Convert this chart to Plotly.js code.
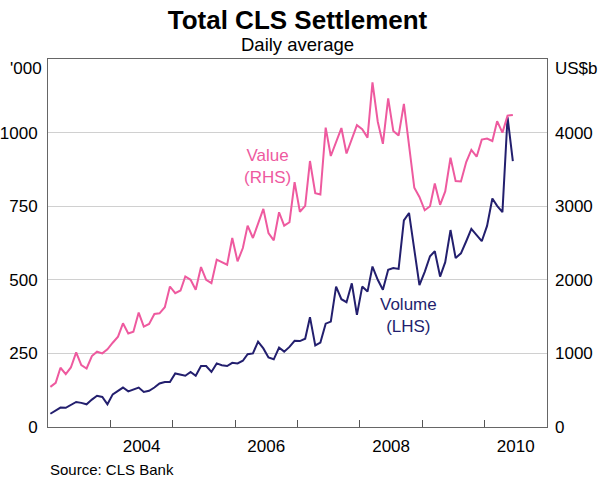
<!DOCTYPE html>
<html>
<head>
<meta charset="utf-8">
<script src="https://cdn.plot.ly/plotly-3.0.1.min.js"></script>
<style>
  html, body { margin: 0; padding: 0; background: #fff; }
  #chart { width: 600px; height: 488px; }
</style>
</head>
<body>
<div id="chart"></div>
<script>
// Monthly data, January 2003 to June 2010
const startYear = 2003;
const startMonth = 1;
const nMonths = 90;

// Volume, '000 (left-hand scale)
const volume = [
  45, 57, 66, 65, 74, 85, 82, 77, 93, 106, 102, 77,
  111, 123, 134, 121, 127, 134, 119, 123, 134, 148, 153, 153,
  182, 177, 174, 187, 174, 207, 207, 187, 216, 210, 207, 218,
  216, 225, 247, 250, 290, 267, 236, 230, 270, 256, 272, 293,
  292, 300, 373, 277, 287, 351, 358, 477, 434, 424, 488, 381,
  477, 460, 545, 500, 466, 534, 540, 537, 702, 727, 600, 482,
  527, 580, 597, 511, 560, 669, 574, 590, 631, 673, 652, 631,
  683, 776, 751, 730, 1053, 903
];

// Value, US$b (right-hand scale)
const value = [
  545, 600, 805, 718, 809, 1014, 841, 795, 964, 1023, 1000, 1055,
  1145, 1227, 1409, 1270, 1295, 1555, 1364, 1400, 1536, 1545, 1627, 1909,
  1818, 1855, 2045, 2000, 1864, 2173, 2000, 1955, 2273, 2236, 2205, 2568,
  2250, 2432, 2736, 2568, 2750, 2964, 2636, 2536, 2918, 2736, 2782, 3327,
  2925, 3005, 3614, 3178, 3159, 4068, 3682, 3870, 4062, 3716, 3900, 4100,
  4045, 3932, 4682, 4148, 3848, 4464, 4023, 3960, 4390, 3790, 3250, 3125,
  2945, 3000, 3309, 3018, 3200, 3659, 3341, 3336, 3600, 3764, 3673, 3905,
  3920, 3886, 4155, 4000, 4230, 4240
];

const leftTicks = [0, 250, 500, 750, 1000];
const rightTicks = [0, 1000, 2000, 3000, 4000];
const yearLabels = ['2004', '2006', '2008', '2010'];
const yearBoundaries = ['2004', '2005', '2006', '2007', '2008', '2009', '2010'];

// month dates (mid-month)
const months = [];
for (let i = 0; i < nMonths; i++) {
  const m = startMonth - 1 + i;
  const y = startYear + Math.floor(m / 12);
  const mm = (m % 12) + 1;
  months.push(y + '-' + String(mm).padStart(2, '0') + '-15');
}

const PINK = '#ee5a9f';
const NAVY = '#231f6e';
const FONT = 'Arial, "Liberation Sans", Helvetica, sans-serif';

const traces = [
  {
    x: months, y: value, yaxis: 'y2', type: 'scatter', mode: 'lines',
    line: { color: PINK, width: 2 }, name: 'Value (RHS)', hoverinfo: 'skip'
  },
  {
    x: months, y: volume, yaxis: 'y', type: 'scatter', mode: 'lines',
    line: { color: NAVY, width: 2 }, name: 'Volume (LHS)', hoverinfo: 'skip'
  }
];

const layout = {
  width: 600, height: 488,
  margin: { l: 48, r: 53, t: 59, b: 61, pad: 0 },
  paper_bgcolor: '#ffffff', plot_bgcolor: '#ffffff',
  showlegend: false,
  font: { family: FONT, color: '#000', size: 17 },
  title: {
    text: '<b>Total CLS Settlement</b>',
    font: { family: FONT, size: 26, color: '#000' },
    x: 0.5, xref: 'paper', xanchor: 'center',
    y: 1 - 20 / 488, yref: 'container', yanchor: 'middle'
  },
  xaxis: {
    type: 'date',
    range: ['2003-01-01', '2011-01-01'],
    tickmode: 'array',
    tickvals: yearLabels.map(y => y + '-07-02'),
    ticktext: yearLabels,
    ticks: '',
    ticklabelstandoff: 4,
    tickfont: { family: FONT, size: 17, color: '#000' },
    showgrid: false, zeroline: false,
    showline: true, mirror: true, linecolor: '#666', linewidth: 1,
    minor: {
      tickmode: 'array',
      tickvals: yearBoundaries.map(y => y + '-01-01'),
      ticks: 'inside', ticklen: 7, tickwidth: 1, tickcolor: '#555',
      showgrid: false
    },
    fixedrange: true
  },
  yaxis: {
    range: [0, 1250],
    tickmode: 'array', tickvals: leftTicks,
    ticks: '', ticklabelstandoff: 6,
    tickfont: { family: FONT, size: 17, color: '#000' },
    showgrid: true, gridcolor: '#d0d0d0', gridwidth: 1,
    zeroline: false,
    showline: true, mirror: true, linecolor: '#666', linewidth: 1,
    fixedrange: true
  },
  yaxis2: {
    range: [0, 5000],
    overlaying: 'y', side: 'right',
    tickmode: 'array', tickvals: rightTicks,
    ticks: '', ticklabelstandoff: 7,
    tickfont: { family: FONT, size: 17, color: '#000' },
    showgrid: false, zeroline: false, showline: false,
    fixedrange: true
  },
  annotations: [
    {
      text: 'Daily average', xref: 'paper', yref: 'paper',
      x: 0.5, y: (427 - 45) / 368, xanchor: 'center', yanchor: 'middle',
      showarrow: false, font: { family: FONT, size: 18.5, color: '#000' }
    },
    {
      text: "'000", xref: 'paper', yref: 'paper',
      x: (44 - 48) / 499, y: (427 - 68) / 368, xanchor: 'right', yanchor: 'middle',
      showarrow: false, font: { family: FONT, size: 17, color: '#000' }
    },
    {
      text: 'US$b', xref: 'paper', yref: 'paper',
      x: (553 - 48) / 499, y: (427 - 68) / 368, xanchor: 'left', yanchor: 'middle',
      showarrow: false, font: { family: FONT, size: 17, color: '#000' }
    },
    {
      text: 'Value<br>(RHS)', xref: 'x', yref: 'y',
      x: '2006-07-11', y: 886, xanchor: 'center', yanchor: 'middle',
      showarrow: false, font: { family: FONT, size: 17, color: PINK }
    },
    {
      text: 'Volume<br>(LHS)', xref: 'x', yref: 'y',
      x: '2008-10-11', y: 379, xanchor: 'center', yanchor: 'middle',
      showarrow: false, font: { family: FONT, size: 17, color: NAVY }
    },
    {
      text: 'Source: CLS Bank', xref: 'paper', yref: 'paper',
      x: 0, y: (427 - 469) / 368, xanchor: 'left', yanchor: 'middle',
      showarrow: false, font: { family: FONT, size: 15, color: '#000' }
    }
  ]
};

Plotly.newPlot('chart', traces, layout, { displayModeBar: false, staticPlot: true });
</script>
</body>
</html>
